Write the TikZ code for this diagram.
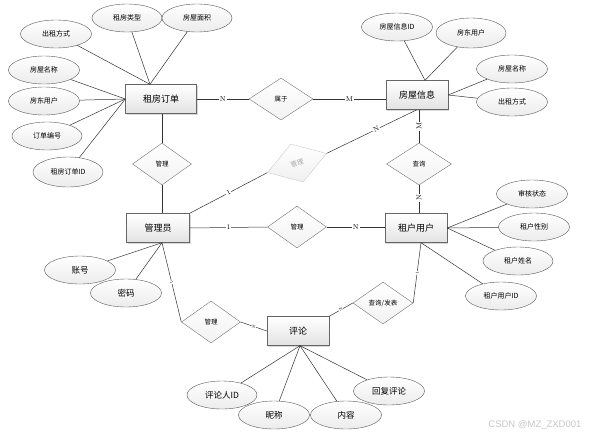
\documentclass[tikz,border=0pt]{standalone}
\usepackage{fontspec}
\newfontfamily\cjk{Noto Sans CJK SC}
\newfontfamily\wmfont{Liberation Sans}
\usetikzlibrary{shapes.geometric,shadows}

\begin{document}
\begin{tikzpicture}[x=1pt, y=-1pt,
    entity/.style={rectangle, draw=black!60, top color=white, bottom color=gray!22,
      minimum width=63, minimum height=29, inner sep=0pt,
      font=\cjk\fontsize{9}{9}\selectfont,
      drop shadow={shadow xshift=1pt, shadow yshift=-1pt, opacity=.3}},
    attr/.style={ellipse, draw=black!65, top color=white, bottom color=gray!15,
      minimum width=71, minimum height=28, inner sep=0pt,
      font=\cjk\fontsize{7}{7}\selectfont},
    bigattr/.style={attr, font=\cjk\fontsize{8.5}{8.5}\selectfont},
    rel/.style={diamond, draw=black!55, top color=white, bottom color=gray!10,
      minimum width=59, minimum height=42, inner sep=0pt,
      font=\cjk\fontsize{6.5}{6.5}\selectfont},
    card/.style={fill=white, inner sep=0.8pt, font=\fontsize{7}{7}\selectfont},
    tinycard/.style={fill=white, inner sep=0.3pt, font=\fontsize{4}{4}\selectfont},
    link/.style={draw=black!80, line width=0.5pt},
  ]
  \useasboundingbox (0,0) rectangle (589,437);

  % --- 1. Entities ---
  \node[entity, minimum width=71] (zfdd) at (161,99) {租房订单};
  \node[entity, minimum width=62] (fwxx) at (417,95) {房屋信息};
  \node[entity] (gly) at (158,228) {管理员};
  \node[entity, minimum width=62] (zhyh) at (416,228) {租户用户};
  \node[entity, minimum width=62] (pl) at (298,331) {评论};

  % --- 2. Relations ---
  \node[rel, minimum width=64] (sy) at (281,99) {属于};
  \node[rel] (gl1) at (162,164) {管理};
  \node[rel, minimum width=62, minimum height=40, rotate=18, draw=gray!40,
    top color=white, bottom color=gray!12, text=gray!70] (gl2) at (297,163) {管理};
  \node[rel, minimum width=65] (cx) at (419,164) {查询};
  \node[rel] (gl3) at (297,227) {管理};
  \node[rel] (gl4) at (211,322) {管理};
  \node[rel, minimum width=60] (cxfb) at (383,303) {查询/发表};

  % --- 3. Attributes ---
  \node[attr] (zfdd-czfs) at (56,34) {出租方式};
  \node[attr, minimum width=70] (zfdd-zflx) at (127,18) {租房类型};
  \node[attr, minimum width=70] (zfdd-fwmj) at (197,18) {房屋面积};
  \node[attr] (zfdd-fwmc) at (44,70) {房屋名称};
  \node[attr] (zfdd-fdyh) at (44,101) {房东用户};
  \node[attr, minimum width=70] (zfdd-ddbh) at (47,136) {订单编号};
  \node[attr, minimum width=70, minimum height=30] (zfdd-id) at (68,172) {租房订单ID};

  \node[attr] (fwxx-id) at (397,27) {房屋信息ID};
  \node[attr, minimum width=70, minimum height=30] (fwxx-fdyh) at (471,33) {房东用户};
  \node[attr] (fwxx-fwmc) at (512,69) {房屋名称};
  \node[attr] (fwxx-czfs) at (512,102) {出租方式};

  \node[attr] (zhyh-shzt) at (532,194) {审核状态};
  \node[attr] (zhyh-xb) at (534,227) {租户性别};
  \node[attr, minimum width=70] (zhyh-xm) at (518,261) {租户姓名};
  \node[attr] (zhyh-id) at (501,296) {租户用户ID};

  \node[bigattr] (gly-zh) at (80,270) {账号};
  \node[bigattr] (gly-mm) at (126,293) {密码};

  \node[bigattr, minimum width=70] (pl-plr) at (222,395) {评论人ID};
  \node[bigattr] (pl-nc) at (274,415) {昵称};
  \node[bigattr] (pl-nr) at (346,415) {内容};
  \node[bigattr] (pl-hf) at (389,391) {回复评论};

  % --- 4. Attribute links ---
  \foreach \a in {czfs,zflx,fwmj}
    \draw[link] (zfdd-\a) -- ([xshift=-11pt]zfdd.north);
  \foreach \a in {fwmc,fdyh,ddbh,id}
    \draw[link] (zfdd-\a) -- (zfdd.west);
  \foreach \a in {id,fdyh}
    \draw[link] (fwxx-\a) -- ([xshift=8pt]fwxx.north);
  \foreach \a in {fwmc,czfs}
    \draw[link] (fwxx-\a) -- (fwxx.east);
  \foreach \a in {shzt,xb,xm}
    \draw[link] (zhyh-\a) -- (zhyh.east);
  \draw[link] (zhyh-id) -- ([xshift=5pt]zhyh.south);
  \foreach \a in {zh,mm}
    \draw[link] (gly-\a) -- ([xshift=4pt]gly.south);
  \foreach \a in {plr,nc,nr,hf}
    \draw[link] (pl-\a) -- ([xshift=2pt]pl.south);

  % --- 5. Relation links ---
  \draw[link] (zfdd.east) -- node[card] {N} (sy.west);
  \draw[link] (sy.east) -- node[card] {M} (sy.east -| fwxx.west);
  \draw[link] (gl1.north) -- (gl1.north |- zfdd.south);
  \draw[link] (gl1.south) -- (gl1.south |- gly.north);
  \draw[link] (gly.north east) -- node[card, sloped] {1} (gl2.west);
  \draw[link] (gl2.east) -- node[card, sloped, pos=.55] {N} (fwxx.south);
  \draw[link] (cx.north) -- node[card, rotate=90] {M} (cx.north |- fwxx.south);
  \draw[link] (cx.south) -- node[card, rotate=90, pos=.45] {N} (cx.south |- zhyh.north);
  \draw[link] (gly.east) -- node[card] {1} (gl3.west);
  \draw[link] (gl3.east) -- node[card] {N} (gl3.east -| zhyh.west);
  \draw[link] ([xshift=4pt]gly.south) -- node[tinycard, sloped, pos=.5] {1} (gl4.west);
  \draw[link] (gl4.east) -- node[tinycard, sloped] {N} (pl.west);
  \draw[link] (pl.north east) -- node[tinycard, sloped] {N} (cxfb.west);
  \draw[link] (cxfb.east) -- node[tinycard, sloped] {1} ([xshift=5pt]zhyh.south);

  % watermark
  \node[text=gray!45, font=\wmfont\fontsize{9.5}{9.5}\selectfont, anchor=east] (wm) at (585,425) {CSDN @MZ\_ZXD001};
\end{tikzpicture}
\end{document}
